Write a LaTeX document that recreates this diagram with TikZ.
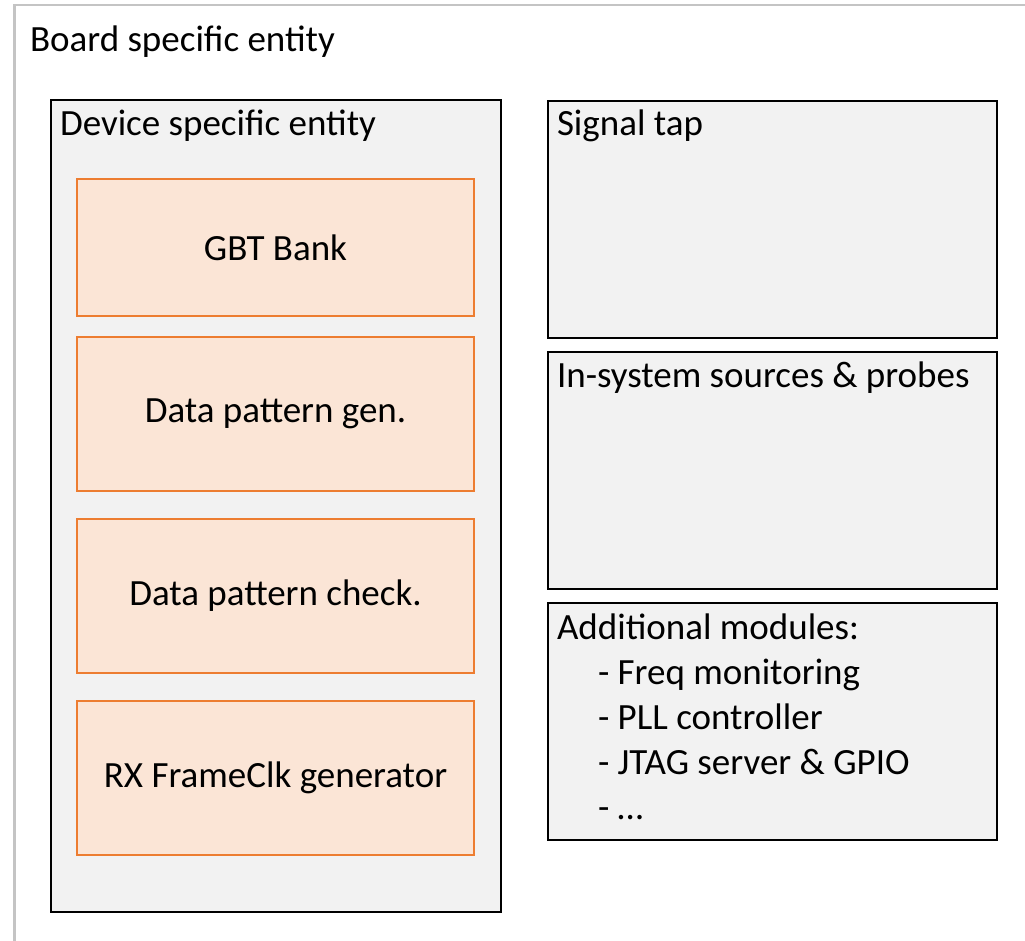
\documentclass[tikz,border=0pt]{standalone}
\usepackage{fontspec}
\setmainfont{Carlito}
\definecolor{panelfill}{HTML}{F2F2F2}
\definecolor{blockfill}{HTML}{FBE5D6}
\definecolor{blockline}{HTML}{ED7D31}
\definecolor{frameline}{HTML}{C4C4C4}
\begin{document}
\begin{tikzpicture}[x=1pt,y=-1pt,
  box/.style={inner sep=0pt, outer sep=0pt, anchor=north west},
  boardbox/.style={box, draw=frameline, line width=2.6pt, fill=white},
  panel/.style={box, draw=black, line width=2pt, fill=panelfill},
  block/.style={box, draw=blockline, line width=2.4pt, fill=blockfill,
    minimum width=397pt, font=\fontsize{37}{44}\selectfont},
  caption/.style={inner sep=0pt, outer sep=0pt, anchor=base west,
    font=\fontsize{37}{44}\selectfont}
]
\useasboundingbox (0,0) rectangle (1025,941);
\path[clip] (0,0) rectangle (1025,941);

% board-level frame (runs past the page edges)
\node[boardbox, minimum width=1040pt, minimum height=980pt] (board) at (14.5,5) {};
\node[caption] (boardlbl) at ([shift={(15.5,47)}]board.north west) {Board specific entity};

% device-specific entity with its four blocks
\node[panel, minimum width=450pt, minimum height=812pt] (device) at (51,100) {};
\node[caption] (devicelbl) at ([shift={(9,36)}]device.north west) {Device specific entity};

\node[block, minimum height=137pt] (gbt)   at (77,179) {GBT Bank};
\node[block, minimum height=154pt] (gen)   at (77,337) {Data pattern gen.};
\node[block, minimum height=154pt] (check) at (77,519) {Data pattern check.};
\node[block, minimum height=154pt] (rxclk) at (77,701) {RX FrameClk generator};

% debug / support panels
\node[panel, minimum width=449pt, minimum height=237pt] (stap) at (548,101) {};
\node[caption] (staplbl) at ([shift={(9,35)}]stap.north west) {Signal tap};

\node[panel, minimum width=449pt, minimum height=237pt] (issp) at (548,352) {};
\node[caption] (issplbl) at ([shift={(9,35)}]issp.north west) {In-system sources \& probes};

\node[panel, minimum width=449pt, minimum height=237pt] (addm) at (548,603) {};
\node[caption] (addlbl) at ([shift={(9,36)}]addm.north west) {Additional modules:};
\node[caption] (add1) at ([shift={(41,45)}]addlbl.base west) {- Freq monitoring};
\node[caption] (add2) at ([shift={(0,45)}]add1.base west) {- PLL controller};
\node[caption] (add3) at ([shift={(0,45)}]add2.base west) {- JTAG server \& GPIO};
\node[caption] (add4) at ([shift={(0,45)}]add3.base west) {- …};
\end{tikzpicture}
\end{document}
